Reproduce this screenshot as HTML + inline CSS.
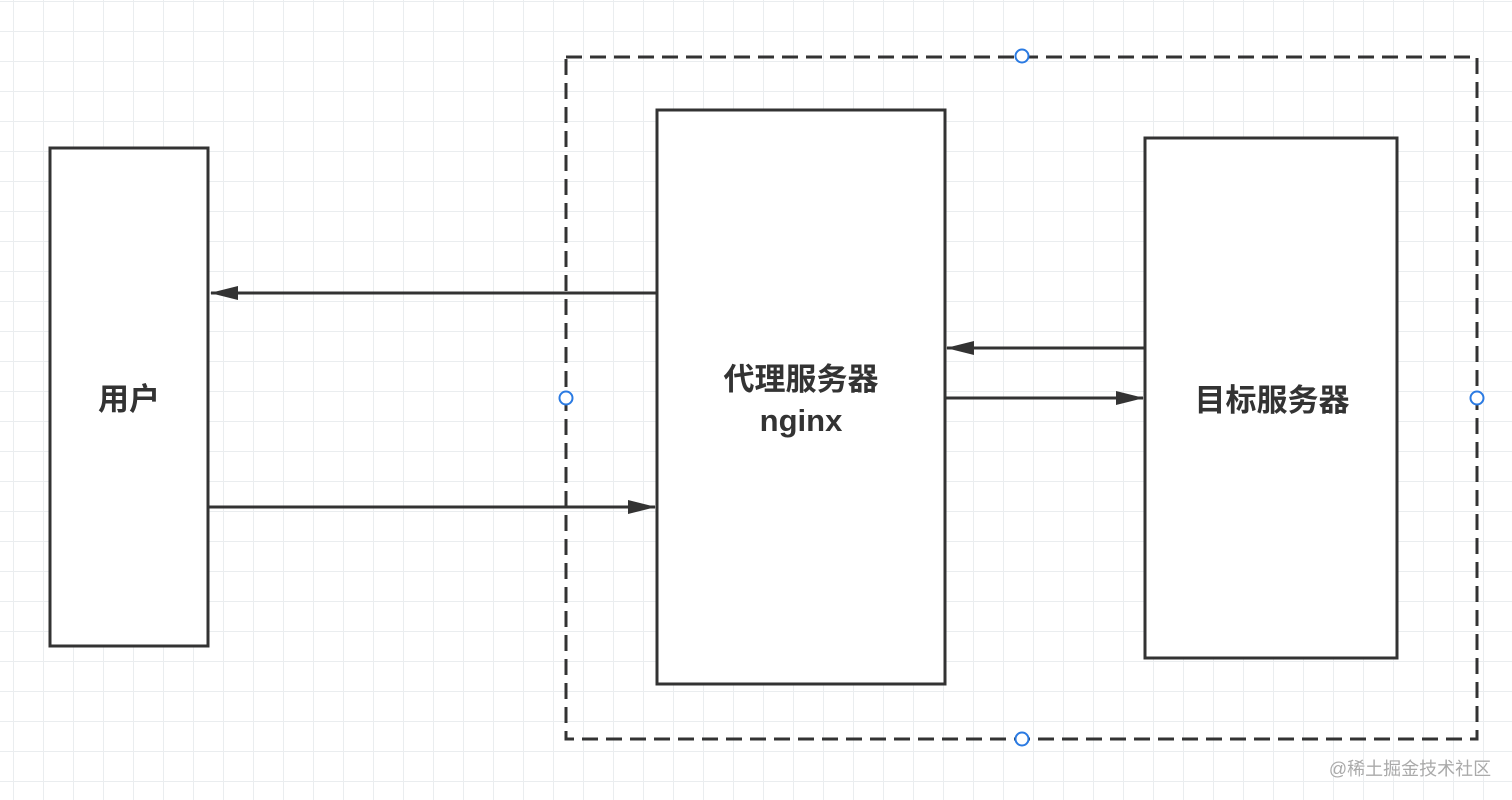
<!DOCTYPE html>
<html><head><meta charset="utf-8"><style>
html,body{margin:0;padding:0;background:#fff;}
svg{display:block;}
text{font-family:"Liberation Sans","Noto Sans CJK SC",sans-serif;}
</style></head><body>
<svg width="1512" height="800" viewBox="0 0 1512 800" xmlns="http://www.w3.org/2000/svg">
<defs>
<pattern id="g" x="13" y="1" width="30" height="30" patternUnits="userSpaceOnUse">
<path d="M0 0V30M0 0H30" stroke="#eaedef" stroke-width="2" fill="none"/>
</pattern>
<marker id="ah" viewBox="0 0 28 16" refX="27" refY="8" markerWidth="28" markerHeight="16" markerUnits="userSpaceOnUse" orient="auto">
<path d="M0 1L28 8L0 15Z" fill="#333"/>
</marker>
</defs>
<rect width="1512" height="800" fill="url(#g)"/>
<rect x="566" y="57" width="911" height="682" fill="none" stroke="#333" stroke-width="3" stroke-dasharray="16,8"/>
<rect x="50" y="148" width="158" height="498" fill="#fff" stroke="#333" stroke-width="3"/>
<rect x="657" y="110" width="288" height="574" fill="#fff" stroke="#333" stroke-width="3"/>
<rect x="1145" y="138" width="252" height="520" fill="#fff" stroke="#333" stroke-width="3"/>
<g stroke="#333" stroke-width="3" fill="none">
<line x1="656" y1="293" x2="211" y2="293" marker-end="url(#ah)"/>
<line x1="209" y1="507" x2="655" y2="507" marker-end="url(#ah)"/>
<line x1="1144" y1="348" x2="947" y2="348" marker-end="url(#ah)"/>
<line x1="946" y1="398" x2="1143" y2="398" marker-end="url(#ah)"/>
</g>
<g fill="#fff" stroke="#2a7ae2" stroke-width="2">
<circle cx="1022" cy="56" r="6.5"/>
<circle cx="1022" cy="739" r="6.5"/>
<circle cx="566" cy="398" r="6.5"/>
<circle cx="1477" cy="398" r="6.5"/>
</g>
<g fill="#333" font-size="31" font-weight="bold" text-anchor="middle">
<text x="129" y="410">用户</text>
<text x="801" y="390">代理服务器</text>
<text x="801" y="431">nginx</text>
<text x="1272" y="411">目标服务器</text>
</g>
<text x="1410" y="775" font-size="18" fill="#aaa" text-anchor="middle">@稀土掘金技术社区</text>
</svg>
</body></html>
